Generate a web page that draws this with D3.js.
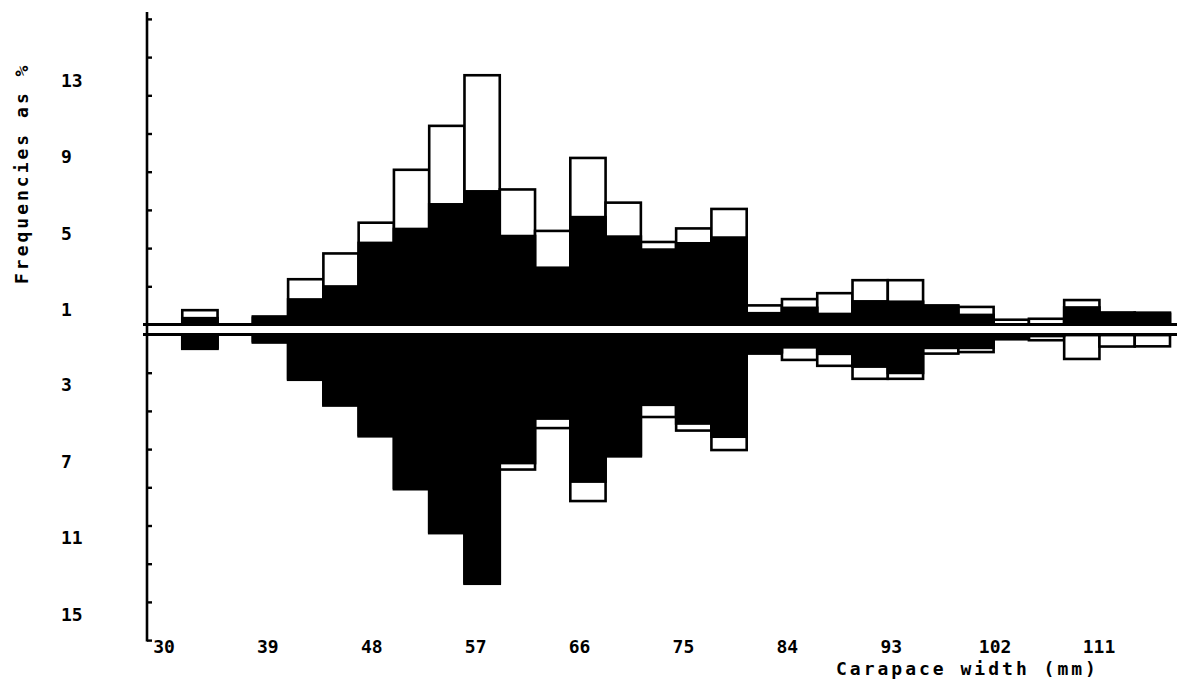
<!DOCTYPE html>
<html>
<head>
<meta charset="utf-8">
<script src="https://cdn.jsdelivr.net/npm/d3@7/dist/d3.min.js"></script>
<style>
  body { margin: 0; background: #fff; }
  text { font-family: "DejaVu Sans Mono", monospace; font-weight: bold; fill: #000; }
</style>
</head>
<body>
<svg id="chart" width="1177" height="685"></svg>
<script>
// carapace width classes (lower edge, mm), 3 mm wide
const binStarts = [30, 33, 36, 39, 42, 45, 48, 51, 54, 57, 60, 63, 66, 69, 72,
                   75, 78, 81, 84, 87, 90, 93, 96, 99, 102, 105, 108, 111, 114];
// full bar height (%), same on both sides
const totalPct = [0, 0.75, 0, 0.42, 2.37, 3.72, 5.33, 8.1, 10.4, 13.05, 7.07, 4.9, 8.72, 6.38, 4.32,
                  5.03, 6.05, 1.0, 1.33, 1.64, 2.32, 2.32, 1.0, 0.92, 0.25, 0.3, 1.28, 0.63, 0.62];
// black part, upper half
const upperBlack = [0, 0.4, 0, 0.42, 1.38, 2.06, 4.34, 5.07, 6.36, 7.04, 4.7, 3.04, 5.69, 4.67, 3.99,
                    4.32, 4.62, 0.66, 0.94, 0.62, 1.28, 1.26, 1.0, 0.57, 0.05, 0.05, 0.96, 0.63, 0.62];
// black part, lower half
const lowerBlack = [0, 0.75, 0, 0.42, 2.37, 3.72, 5.33, 8.1, 10.4, 13.05, 6.8, 4.47, 7.77, 6.38, 3.75,
                    4.73, 5.42, 1.0, 0.74, 1.08, 1.75, 2.08, 0.77, 0.77, 0.25, 0.15, 0.1, 0.1, 0.1];

const xTickLabels = [30, 39, 48, 57, 66, 75, 84, 93, 102, 111];
const upperLabels = [1, 5, 9, 13];
const lowerLabels = [3, 7, 11, 15];
const tickVals = [2, 4, 6, 8, 10, 12, 14, 16];

const svg = d3.select("#chart");
const binW = 3;

const x = d3.scaleLinear().domain([30, 117]).range([147, 1170]);
const xLab = d3.scaleLinear().domain([30, 111]).range([164, 1099]);
const yUp = d3.scaleLinear().domain([0, 16]).range([324.5, 18.9]);
const yDown = d3.scaleLinear().domain([0, 16]).range([334.5, 640.1]);

const data = binStarts.map((b, i) => ({
  b, total: totalPct[i], up: upperBlack[i], down: lowerBlack[i]
}));

const bars = svg.append("g");

// upper half: outlined total, black part from the base
bars.selectAll(".upT")
  .data(data.filter(d => d.total > 0))
  .join("rect")
  .attr("x", d => x(d.b))
  .attr("y", d => yUp(d.total))
  .attr("width", d => x(d.b + binW) - x(d.b))
  .attr("height", d => yUp(0) - yUp(d.total))
  .attr("fill", "#fff")
  .attr("stroke", "#000")
  .attr("stroke-width", 2.6);

bars.selectAll(".upB")
  .data(data.filter(d => d.up > 0))
  .join("rect")
  .attr("x", d => x(d.b) - 1.3)
  .attr("y", d => yUp(d.up))
  .attr("width", d => x(d.b + binW) - x(d.b) + 2.6)
  .attr("height", d => yUp(0) - yUp(d.up))
  .attr("fill", "#000");

// lower half
bars.selectAll(".dnT")
  .data(data.filter(d => d.total > 0))
  .join("rect")
  .attr("x", d => x(d.b))
  .attr("y", yDown(0))
  .attr("width", d => x(d.b + binW) - x(d.b))
  .attr("height", d => yDown(d.total) - yDown(0))
  .attr("fill", "#fff")
  .attr("stroke", "#000")
  .attr("stroke-width", 2.6);

bars.selectAll(".dnB")
  .data(data.filter(d => d.down > 0))
  .join("rect")
  .attr("x", d => x(d.b) - 1.3)
  .attr("y", yDown(0))
  .attr("width", d => x(d.b + binW) - x(d.b) + 2.6)
  .attr("height", d => yDown(d.down) - yDown(0))
  .attr("fill", "#000");

// the two base lines with the white gap between
svg.append("rect")
  .attr("x", 147).attr("y", yUp(0))
  .attr("width", 1030).attr("height", yDown(0) - yUp(0))
  .attr("fill", "#fff");
[yUp(0), yDown(0)].forEach(yy => {
  svg.append("line")
    .attr("x1", 143).attr("x2", 1177)
    .attr("y1", yy).attr("y2", yy)
    .attr("stroke", "#000").attr("stroke-width", 3);
});

// vertical axis
svg.append("line")
  .attr("x1", 147).attr("x2", 147)
  .attr("y1", 12).attr("y2", yDown(16) + 1.5)
  .attr("stroke", "#000").attr("stroke-width", 2.6);

const axUp = svg.append("g").attr("transform", "translate(147,0)")
  .call(d3.axisRight(yUp).tickValues(tickVals).tickSize(5).tickFormat(""));
const axDn = svg.append("g").attr("transform", "translate(147,0)")
  .call(d3.axisRight(yDown).tickValues(tickVals).tickSize(5).tickFormat(""));
[axUp, axDn].forEach(g => {
  g.select(".domain").remove();
  g.selectAll(".tick line").attr("stroke", "#000").attr("stroke-width", 2.4);
});

// y tick labels
svg.selectAll(".ulab")
  .data(upperLabels)
  .join("text")
  .attr("x", 61)
  .attr("y", d => yUp(d) + 4)
  .attr("dominant-baseline", "central")
  .attr("font-size", 18)
  .text(d => d);

svg.selectAll(".dlab")
  .data(lowerLabels)
  .join("text")
  .attr("x", 61)
  .attr("y", d => yDown(d) - 7)
  .attr("dominant-baseline", "central")
  .attr("font-size", 18)
  .text(d => d);

// x tick labels
svg.selectAll(".xlab")
  .data(xTickLabels)
  .join("text")
  .attr("x", d => xLab(d))
  .attr("y", 646)
  .attr("text-anchor", "middle")
  .attr("dominant-baseline", "central")
  .attr("font-size", 18)
  .text(d => d);

// titles
svg.append("text")
  .attr("x", 836).attr("y", 675)
  .attr("font-size", 18)
  .attr("letter-spacing", 3)
  .text("Carapace width (mm)");

svg.append("text")
  .attr("transform", "translate(28,284) rotate(-90)")
  .attr("font-size", 18)
  .attr("letter-spacing", 3)
  .text("Frequencies as %");
</script>
</body>
</html>
